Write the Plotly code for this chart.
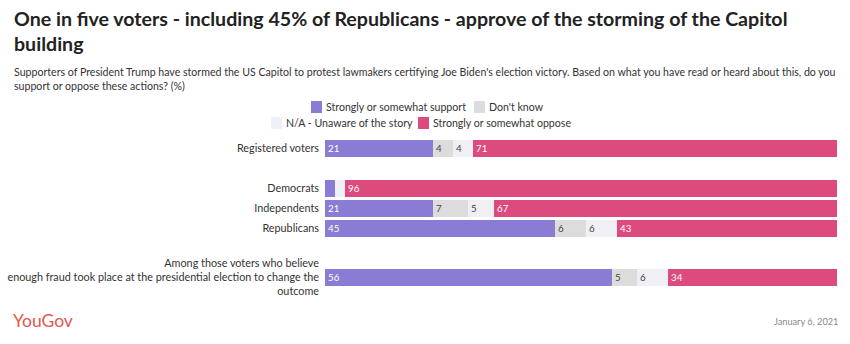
import plotly.graph_objects as go

# Survey groups (top to bottom) and the share giving each answer (%)
groups = [
    "Registered voters",
    "Democrats",
    "Independents",
    "Republicans",
    "Among those voters who believe<br>enough fraud took place at the presidential election to change the<br>outcome",
]
support = [21, 2, 21, 45, 56]
dont_know = [4, 0, 7, 6, 5]
unaware = [4, 2, 5, 6, 6]
oppose = [71, 96, 67, 43, 34]

series_names = [
    "Strongly or somewhat support",
    "Don't know",
    "N/A - Unaware of the story",
    "Strongly or somewhat oppose",
]

# Row placement on the value axis (gaps separate the group blocks)
row_pos = [0, 2, 3, 4, 6.45]

COL_SUPPORT = "#8a7bd4"
COL_DK = "#dcdcdc"
COL_NA = "#f0eff5"
COL_OPPOSE = "#dc4a7e"

FONT = "Lato, 'Open Sans', sans-serif"

W, H = 850, 344
PL, PR, PT, PB = 325, 837, 138, 288  # plot area in pixels


def px(x):
    return (x - PL) / (PR - PL)


def py(y):
    return (PB - y) / (PB - PT)


def labels(vals, min_show=3):
    return [str(v) if v >= min_show else "" for v in vals]


fig = go.Figure()
for name, vals, col, tcol in [
    (series_names[0], support, COL_SUPPORT, "white"),
    (series_names[1], dont_know, COL_DK, "#444444"),
    (series_names[2], unaware, COL_NA, "#444444"),
    (series_names[3], oppose, COL_OPPOSE, "white"),
]:
    fig.add_trace(go.Bar(
        name=name,
        y=row_pos,
        x=vals,
        orientation="h",
        marker=dict(color=col, line=dict(width=0)),
        width=0.85,
        text=labels(vals),
        textposition="inside",
        insidetextanchor="start",
        textangle=0,
        textfont=dict(family=FONT, size=11.5, color=tcol),
        showlegend=False,
        hoverinfo="x+name",
    ))

annotations = []
shapes = []

# Title and subtitle
annotations.append(dict(
    xref="paper", yref="paper", x=px(12), y=py(5), xanchor="left", yanchor="top",
    align="left", showarrow=False,
    text="<b>One in five voters - including 45% of Republicans - approve of the storming of the Capitol<br>building</b>",
    font=dict(family=FONT, size=19.6, color="#222222"),
))
annotations.append(dict(
    xref="paper", yref="paper", x=px(12), y=py(64), xanchor="left", yanchor="top",
    align="left", showarrow=False,
    text="Supporters of President Trump have stormed the US Capitol to protest lawmakers certifying Joe Biden's election victory. Based on what you have read or heard about this, do you<br>support or oppose these actions? (%)",
    font=dict(family=FONT, size=10.6, color="#333333"),
))

# Legend, two rows
legend_items = [
    (311, 107, series_names[0], COL_SUPPORT),
    (474, 107, series_names[1], COL_DK),
    (271, 123, series_names[2], COL_NA),
    (418, 123, series_names[3], COL_OPPOSE),
]
for x0, yc, name, col in legend_items:
    shapes.append(dict(
        type="rect", xref="paper", yref="paper",
        x0=px(x0), x1=px(x0 + 11), y0=py(yc + 6), y1=py(yc - 6),
        fillcolor=col, line=dict(width=0), layer="above",
    ))
    annotations.append(dict(
        xref="paper", yref="paper", x=px(x0 + 13), y=py(yc), xanchor="left", yanchor="middle",
        showarrow=False, text=name, font=dict(family=FONT, size=10.6, color="#333333"),
    ))

# Footer
annotations.append(dict(
    xref="paper", yref="paper", x=px(11), y=py(320), xanchor="left", yanchor="middle",
    showarrow=False, text="YouGov",
    font=dict(family=FONT, size=17.5, color="#e2574c"),
))
annotations.append(dict(
    xref="paper", yref="paper", x=px(840), y=py(321), xanchor="right", yanchor="middle",
    showarrow=False, text="January 6, 2021",
    font=dict(family=FONT, size=9.2, color="#888888"),
))

fig.update_layout(
    width=W, height=H,
    margin=dict(l=PL, r=W - PR, t=PT, b=H - PB, pad=0),
    barmode="stack",
    paper_bgcolor="white",
    plot_bgcolor="white",
    bargap=0,
    font=dict(family=FONT, size=11, color="#333333"),
    xaxis=dict(range=[0, 100], visible=False, fixedrange=True, automargin=False),
    yaxis=dict(
        range=[7.0, -0.5],
        tickmode="array", tickvals=row_pos, ticktext=groups,
        showgrid=False, zeroline=False, showline=False, ticks="",
        ticklabelstandoff=5,
        automargin=False,
        tickfont=dict(family=FONT, size=10.8, color="#333333"),
        fixedrange=True,
    ),
    annotations=annotations,
    shapes=shapes,
)

fig.write_html("out.html")
